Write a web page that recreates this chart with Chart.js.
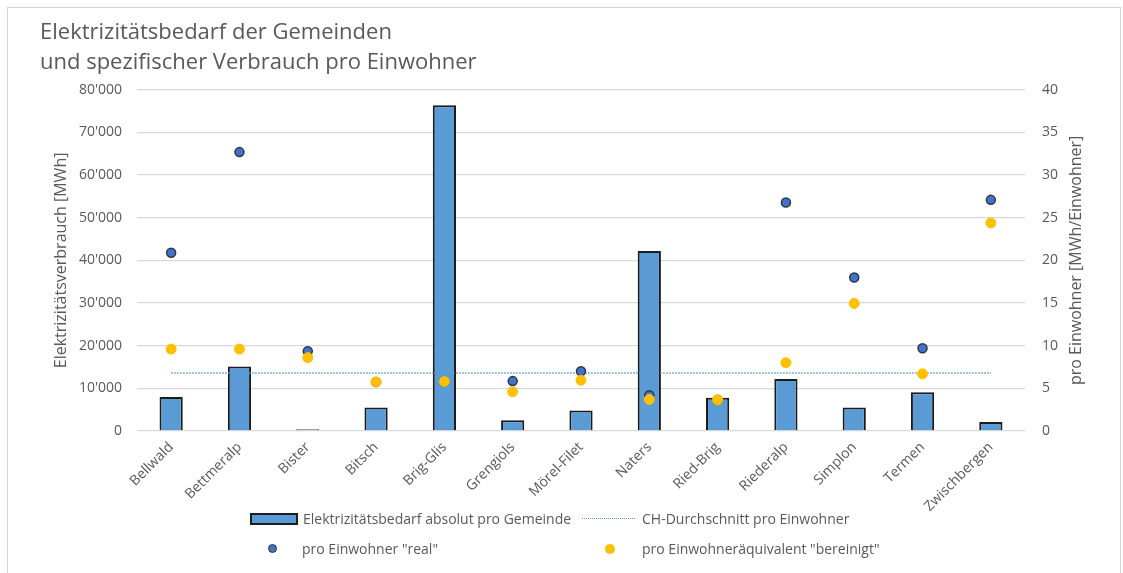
<!DOCTYPE html>
<html>
<head>
<meta charset="utf-8">
<script src="https://cdn.jsdelivr.net/npm/chart.js@4"></script>
<style>
  body { margin: 0; background: #fff; }
  #wrap { position: relative; width: 1123px; height: 573px; overflow: hidden; font-family: 'Open Sans', sans-serif; }
  #frame { position: absolute; left: 7px; top: 7px; width: 1112px; height: 600px; border: 1px solid #d4d4d4; }
  #chart { position: absolute; left: 0; top: 0; }
  .leg { position: absolute; font-size: 14px; color: #595959; white-space: nowrap; line-height: 16px; }
  .sw { position: absolute; }
</style>
</head>
<body>
<div id="wrap">
  <div id="frame"></div>
  <canvas id="chart" width="1123" height="573"></canvas>
  <div id="legend"></div>
</div>
<script>
// municipalities
const gemeinden = ['Bellwald', 'Bettmeralp', 'Bister', 'Bitsch', 'Brig-Glis', 'Grengiols', 'Mörel-Filet',
  'Naters', 'Ried-Brig', 'Riederalp', 'Simplon', 'Termen', 'Zwischbergen'];

// absolute demand in MWh (left axis)
const bedarfMWh = [8000, 15100, 400, 5500, 76400, 2500, 4800, 42200, 7800, 12200, 5500, 9100, 2100];

// CH average per inhabitant (right axis)
const chDurchschnitt = [6.8, 6.8, 6.8, 6.8, 6.8, 6.8, 6.8, 6.8, 6.8, 6.8, 6.8, 6.8, 6.8];

// MWh per inhabitant "real"
const proEinwohnerReal = [20.9, 32.7, 9.35, 5.75, 5.8, 5.85, 7.0, 4.2, 3.65, 26.8, 18.0, 9.7, 27.1];

// MWh per inhabitant equivalent "bereinigt"
const proEinwohnerBereinigt = [9.6, 9.6, 8.6, 5.75, 5.8, 4.6, 5.95, 3.7, 3.65, 8.0, 14.95, 6.7, 24.4];

const yTickLabels = ["0", "10'000", "20'000", "30'000", "40'000", "50'000", "60'000", "70'000", "80'000"];
const y1TickLabels = ['0', '5', '10', '15', '20', '25', '30', '35', '40'];

const titleLines = ['Elektrizitätsbedarf der Gemeinden', 'und spezifischer Verbrauch pro Einwohner'];
const leftTitle = 'Elektrizitätsverbrauch [MWh]';
const rightTitle = 'pro Einwohner [MWh/Einwohner]';
const seriesNames = ['Elektrizitätsbedarf absolut pro Gemeinde', 'CH-Durchschnitt pro Einwohner',
  'pro Einwohner "real"', 'pro Einwohneräquivalent "bereinigt"'];

const grey = '#595959';
Chart.defaults.font.family = "'Open Sans', sans-serif";
Chart.defaults.color = grey;

// right axis title reads bottom-to-top like the left one
const rightTitlePlugin = {
  id: 'rightTitle',
  afterDraw(chart) {
    const area = chart.chartArea;
    const ctx = chart.ctx;
    ctx.save();
    ctx.translate(1076, (area.top + area.bottom) / 2);
    ctx.rotate(-Math.PI / 2);
    ctx.font = "16px 'Open Sans', sans-serif";
    ctx.fillStyle = grey;
    ctx.textAlign = 'center';
    ctx.textBaseline = 'middle';
    ctx.fillText(rightTitle, 0, 0);
    ctx.restore();
  }
};

new Chart(document.getElementById('chart'), {
  data: {
    labels: gemeinden,
    datasets: [
      {
        type: 'bar',
        label: seriesNames[0],
        data: bedarfMWh,
        yAxisID: 'y',
        backgroundColor: '#5B9BD5',
        borderColor: '#1c1c1c',
        borderWidth: 2,
        categoryPercentage: 1,
        barPercentage: 0.34,
        order: 4
      },
      {
        type: 'line',
        label: seriesNames[1],
        data: chDurchschnitt,
        yAxisID: 'y1',
        borderColor: '#5B9BD5',
        borderWidth: 1.5,
        borderDash: [1.5, 1.5],
        pointRadius: 0,
        fill: false,
        order: 3
      },
      {
        type: 'line',
        label: seriesNames[2],
        data: proEinwohnerReal,
        yAxisID: 'y1',
        showLine: false,
        pointRadius: 4.5,
        pointBackgroundColor: '#4472C4',
        pointBorderColor: '#2a3550',
        pointBorderWidth: 1.5,
        order: 2
      },
      {
        type: 'line',
        label: seriesNames[3],
        data: proEinwohnerBereinigt,
        yAxisID: 'y1',
        showLine: false,
        pointRadius: 5,
        pointBackgroundColor: '#FFC000',
        pointBorderColor: '#FFC000',
        pointBorderWidth: 1,
        order: 1
      }
    ]
  },
  options: {
    responsive: false,
    animation: false,
    layout: { padding: { left: 40, right: 20, top: 0, bottom: 0 } },
    plugins: {
      legend: { display: false },
      tooltip: { enabled: false },
      title: {
        display: true,
        text: titleLines,
        align: 'start',
        color: grey,
        font: { size: 22, weight: 'normal', lineHeight: 1.36 },
        padding: { top: 18, bottom: 12 }
      }
    },
    scales: {
      x: {
        grid: { display: false, drawTicks: false },
        border: { display: false },
        ticks: { autoSkip: false, minRotation: 45, maxRotation: 45, padding: 8, font: { size: 14 } },
        afterFit(scale) { scale.height = 142; }
      },
      y: {
        position: 'left',
        min: 0,
        max: 80000,
        grid: { color: '#d9d9d9', lineWidth: 1.3, drawTicks: false },
        border: { display: false },
        ticks: {
          stepSize: 10000,
          padding: 15,
          font: { size: 14 },
          callback: (v, i) => yTickLabels[i]
        },
        title: { display: true, text: leftTitle, font: { size: 16 }, padding: { top: 12 } },
        afterFit(scale) { scale.width = 97; }
      },
      y1: {
        position: 'right',
        min: 0,
        max: 40,
        grid: { display: false, drawTicks: false },
        border: { display: false },
        ticks: {
          stepSize: 5,
          padding: 17,
          font: { size: 14 },
          callback: (v, i) => y1TickLabels[i]
        },
        afterFit(scale) { scale.width = 78; }
      }
    }
  },
  plugins: [rightTitlePlugin]
});

// legend: 2 x 2 grid under the plot
const legend = document.getElementById('legend');
const legendItems = [
  { name: seriesNames[0], sx: 250, tx: 303, y: 519, kind: 'bar' },
  { name: seriesNames[1], sx: 582, tx: 642, y: 519, kind: 'dash' },
  { name: seriesNames[2], sx: 273, tx: 302, y: 549, kind: 'blue' },
  { name: seriesNames[3], sx: 610, tx: 642, y: 549, kind: 'orange' }
];
legendItems.forEach(it => {
  const sw = document.createElement('div');
  sw.className = 'sw';
  if (it.kind === 'bar') {
    Object.assign(sw.style, { left: it.sx + 'px', top: (it.y - 6) + 'px', width: '44px', height: '8px',
      background: '#5B9BD5', border: '2px solid #1c1c1c' });
  } else if (it.kind === 'dash') {
    Object.assign(sw.style, { left: it.sx + 'px', top: (it.y - 1) + 'px', width: '53px', height: '0',
      borderTop: '1.5px dotted #5B9BD5' });
  } else if (it.kind === 'blue') {
    Object.assign(sw.style, { left: (it.sx - 5) + 'px', top: (it.y - 5) + 'px', width: '7px', height: '7px',
      borderRadius: '50%', background: '#4472C4', border: '1.5px solid #2a3550' });
  } else {
    Object.assign(sw.style, { left: (it.sx - 5) + 'px', top: (it.y - 5) + 'px', width: '10px', height: '10px',
      borderRadius: '50%', background: '#FFC000' });
  }
  legend.appendChild(sw);
  const t = document.createElement('div');
  t.className = 'leg';
  t.style.left = it.tx + 'px';
  t.style.top = (it.y - 8) + 'px';
  t.textContent = it.name;
  legend.appendChild(t);
});
</script>
</body>
</html>
